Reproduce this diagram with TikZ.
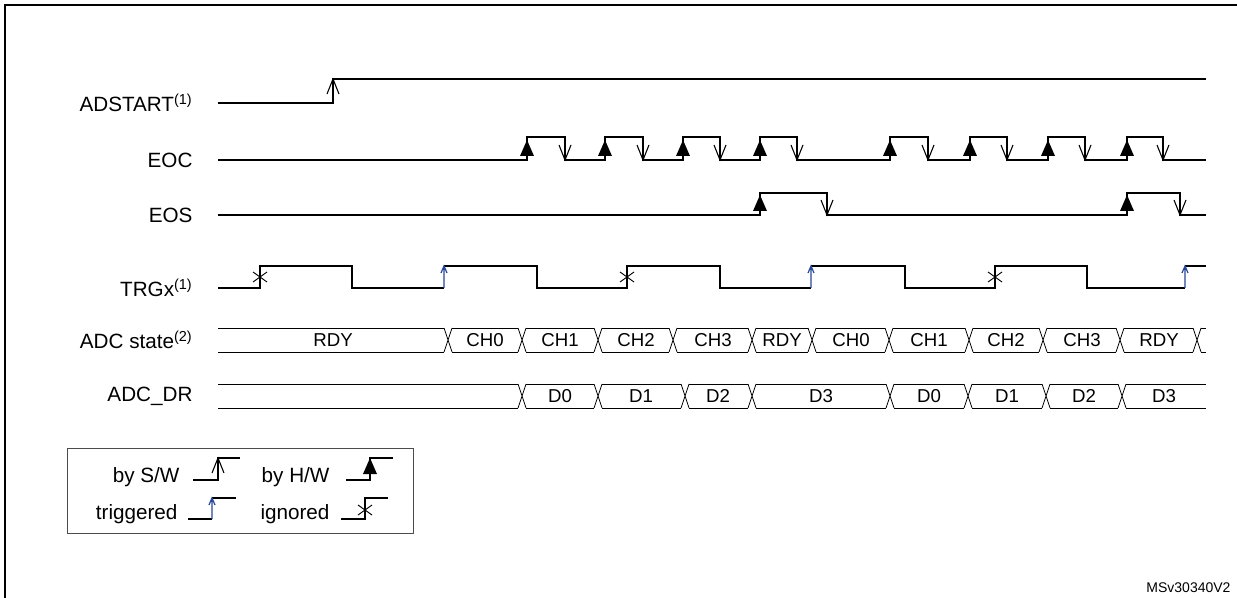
\documentclass[tikz,border=0pt]{standalone}
\usepackage{fontspec}
\setmainfont{Liberation Sans}
\begin{document}
\begin{tikzpicture}[x=0.75pt,y=-0.75pt,line width=0.8pt,
  lbl/.style={anchor=east,font=\fontsize{15.5}{17}\selectfont,inner sep=0pt},
  bt/.style={font=\fontsize{14}{16}\selectfont,inner sep=0pt},
  sig/.style={line width=0.8pt},
  trg/.style={draw={rgb,255:red,40;green,70;blue,150},line width=0.9pt}]
\useasboundingbox (0,0) rectangle (1237,598);
\draw[line width=1pt] (5,640) -- (5,5) -- (1250,5);
% helpers
\newcommand\mySW[2]{\draw (#1-6,#2+15)--(#1,#2)--(#1+6,#2+15);}
\newcommand\myFall[2]{\draw (#1-6,#2-15)--(#1,#2)--(#1+6,#2-15);}
\newcommand\myHW[2]{\fill (#1-7,#2+7)--(#1,#2-9)--(#1+7,#2+7)--cycle;}
\newcommand\myIgn[2]{\draw[line width=0.7pt] (#1-7,#2-5)--(#1+7,#2+5) (#1-7,#2+5)--(#1+7,#2-5);}
\newcommand\myTrg[3]{\draw[trg] (#1,#3)--(#1,#2) (#1-3,#2+7)--(#1,#2)--(#1+3,#2+7);}
% labels
\node[lbl] (l1) at (193,103) {ADSTART\textsuperscript{(1)}};
\node[lbl] (l2) at (193,160) {EOC};
\node[lbl] (l3) at (193,215) {EOS};
\node[lbl] (l4) at (193,288) {TRGx\textsuperscript{(1)}};
\node[lbl] (l5) at (193,340) {ADC state\textsuperscript{(2)}};
\node[lbl] (l6) at (193,396) {ADC\_DR};
% ADSTART
\draw[sig] (218,103) -| (333,79) -- (1206,79);
\mySW{333}{79}
% EOC
\draw[sig] (218,160)-|(527,137)-|(565,160)-|(605,137)-|(643,160)-|(683,137)-|(720,160)-|(760,137)-|(797,160)-|(890,137)-|(928,160)-|(970,137)-|(1007,160)-|(1048,137)-|(1085,160)-|(1127,137)-|(1163,160)--(1206,160);
\foreach \r in {527,605,683,760,890,970,1048,1127} {\myHW{\r}{149}}
\foreach \f in {565,643,720,797,928,1007,1085,1163} {\myFall{\f}{160}}
% EOS
\draw[sig] (218,215)-|(760,193)-|(827,215)-|(1127,193)-|(1180,215)--(1206,215);
\myHW{760}{204}\myHW{1127}{204}
\myFall{827}{215}\myFall{1180}{215}
% TRGx
\draw[sig] (218,288)-|(260,266)-|(352,288)--(444,288);
\draw[sig] (444,266)-|(537,288)-|(627,266)-|(720,288)--(811,288);
\draw[sig] (811,266)-|(905,288)-|(995,266)-|(1087,288)--(1185,288);
\draw[sig] (1185,266)--(1206,266);
\myIgn{260}{277}\myIgn{627}{277}\myIgn{995}{277}
\myTrg{444}{266}{288}\myTrg{811}{266}{288}\myTrg{1185}{266}{288}
% ADC state bus
\begin{scope}[line width=0.6pt]
\def\yt{328}\def\yb{352}
\draw (218,\yt)--(444,\yt) (218,\yb)--(444,\yb);
\foreach \a/\b in {448/522,522/598,598/673,673/752,752/812,812/889,889/969,969/1043,1043/1120,1120/1197}
  {\draw (\a+4,\yt)--(\b-4,\yt) (\a+4,\yb)--(\b-4,\yb);}
\foreach \t in {448,522,598,673,752,812,889,969,1043,1120,1197}
  {\draw (\t-4,\yt)--(\t+4,\yb) (\t-4,\yb)--(\t+4,\yt);}
\draw (1201,\yt)--(1206,\yt) (1201,\yb)--(1206,\yb);
\foreach \c/\s in {333/RDY,485/CH0,560/CH1,636/CH2,713/CH3,782/RDY,851/CH0,929/CH1,1006/CH2,1082/CH3,1159/RDY}
  {\node[bt] at (\c,340) {\s};}
% ADC_DR bus
\def\yt{384}\def\yb{408}
\draw (218,\yt)--(518,\yt) (218,\yb)--(518,\yb);
\foreach \a/\b in {522/598,598/685,685/752,752/890,890/968,968/1046,1046/1122,1122/1210}
  {\draw (\a+4,\yt)--(\b-4,\yt) (\a+4,\yb)--(\b-4,\yb);}
\foreach \t in {522,598,685,752,890,968,1046,1122}
  {\draw (\t-4,\yt)--(\t+4,\yb) (\t-4,\yb)--(\t+4,\yt);}
\foreach \c/\s in {560/D0,641/D1,718/D2,821/D3,929/D0,1007/D1,1084/D2,1164/D3}
  {\node[bt] at (\c,396) {\s};}
\end{scope}
% legend
\draw[line width=0.6pt,draw=black!70] (67,448) rectangle (413,533);
\node[lbl] (ls) at (180,477) {by S/W};
\node[lbl] (lh) at (330,477) {by H/W};
\node[lbl] (lt) at (178,514) {triggered};
\node[lbl] (li) at (330,514) {ignored};
\draw[sig] (193,480)-|(218,458)--(240,458); \mySW{218}{458}
\draw[sig] (346,480)-|(370,458)--(393,458); \myHW{370}{467}
\draw[sig] (188,519)--(212,519); \draw[sig] (212,498)--(236,498); \myTrg{212}{498}{519}
\draw[sig] (341,519)-|(365,498)--(388,498); \myIgn{365}{510}
\node[anchor=east,font=\fontsize{10.5}{12}\selectfont,inner sep=0pt] (ms) at (1231,588) {MSv30340V2};
\end{tikzpicture}
\end{document}
